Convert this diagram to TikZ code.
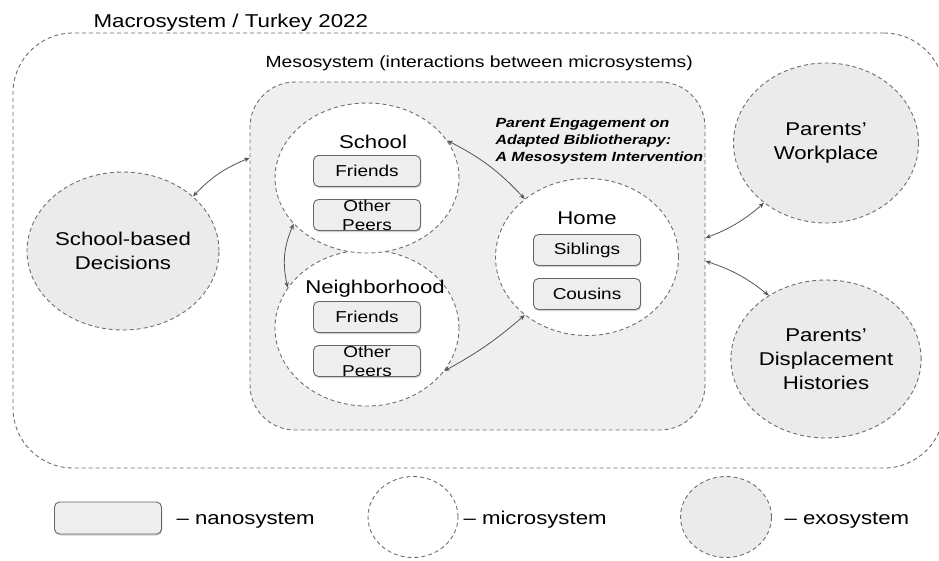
\documentclass[tikz,border=0pt]{standalone}
\usepackage{fontspec}
\setmainfont{Liberation Sans}[FakeStretch=1.2]
\usetikzlibrary{shapes.geometric, arrows.meta, positioning, shadows}

\definecolor{dashgray}{HTML}{6E6E6E}
\definecolor{mesofill}{HTML}{EFEFEF}
\definecolor{exofill}{HTML}{EBEBEB}
\definecolor{nanofill}{HTML}{EEEEEE}
\definecolor{arrgray}{HTML}{555555}

\begin{document}
\begin{tikzpicture}[
    x=1pt, y=-1pt,
    sysline/.style={
        draw=dashgray, line width=0.9pt, dash pattern=on 4pt off 3pt
    },
    macrobox/.style={
        sysline, rectangle, rounded corners=60pt, fill=white,
        minimum width=931pt, minimum height=435pt
    },
    mesobox/.style={
        sysline, rectangle, rounded corners=45pt, fill=mesofill,
        minimum width=455pt, minimum height=348pt
    },
    micro/.style={
        sysline, ellipse, fill=white, inner sep=0pt,
        minimum width=184pt, minimum height=152pt
    },
    exo/.style={
        sysline, ellipse, fill=exofill, inner sep=0pt, align=center,
        minimum width=185pt, minimum height=158pt,
        font=\fontsize{18.5}{24}\selectfont
    },
    nano/.style={
        rectangle, rounded corners=5pt, draw=gray!80!black, line width=0.9pt,
        fill=nanofill, minimum width=107pt, minimum height=31pt,
        font=\fontsize{15.8}{19}\selectfont, align=center,
        drop shadow={shadow xshift=0.8pt, shadow yshift=-1.5pt, opacity=0.35}
    },
    peers/.style={nano, inner ysep=0pt, text height=31pt, text depth=0pt},
    micname/.style={anchor=base, font=\fontsize{18.5}{22}\selectfont},
    plain/.style={anchor=base west, font=\fontsize{18.5}{22}\selectfont},
    arr/.style={{Stealth[length=5.5pt,width=4.5pt]}-{Stealth[length=5.5pt,width=4.5pt]},
        draw=arrgray, line width=0.8pt},
]
\useasboundingbox (0,0) rectangle (939,560);

% ============ Macrosystem ============
\node[plain, font=\fontsize{18.6}{22}\selectfont] (macrolbl) at (90, 27) {Macrosystem / Turkey 2022};
\node[macrobox] (macro) at (478.5, 250.5) {};

% ============ Mesosystem ============
\node[plain, font=\fontsize{16.1}{20}\selectfont] (mesolbl) at (262, 67) {Mesosystem (interactions between microsystems)};
\node[mesobox] (meso) at (477.5, 256) {};
\node[anchor=base west, align=left, font=\fontsize{13.3}{17}\selectfont\bfseries\itshape] (intervention) at (492, 161)
    {Parent Engagement on\\Adapted Bibliotherapy:\\A Mesosystem Intervention};

% ============ Exosystems ============
\node[exo] (decisions) at (123, 251) {School-based\\Decisions};
\node[exo, minimum height=160pt] (workplace) at (826, 143) {Parents'\\Workplace};
\node[exo] (displacement) at (826, 359) {Parents'\\Displacement\\Histories};

% ============ Microsystems ============
\node[micro, minimum height=156pt] (neigh) at (367, 328) {};
\node[micro, minimum height=150pt] (school) at (367, 178) {};
\node[micro, minimum width=183pt, minimum height=157pt] (home) at (587, 257) {};

\node[micname] (schoollbl) at (373, 148) {School};
\node[micname] (neighlbl) at (375, 293) {Neighborhood};
\node[micname] (homelbl) at (587, 224) {Home};

% Nanosystems
\node[nano] (schfriends) at (367, 171) {Friends};
\node[peers] (schpeers) at (367, 215) {Other\\Peers};
\node[nano] (neifriends) at (367, 317) {Friends};
\node[peers] (neipeers) at (367, 361) {Other\\Peers};
\node[nano] (siblings) at (587, 250) {Siblings};
\node[nano] (cousins) at (587, 294) {Cousins};

% ============ Arrows ============
\draw[arr] (decisions.38) to[bend left=12] ([yshift=98pt]meso.west);
\draw[arr] (school.25) to[bend left=10] (home.137);
\draw[arr] (school.212) to[bend right=18] (neigh.153);
\draw[arr] (neigh.331) to[bend right=6] (home.223);
\draw[arr] ([yshift=18pt]meso.east) to[bend right=10] (workplace.224);
\draw[arr] ([yshift=-5pt]meso.east) to[bend left=10] (displacement.132);

% ============ Legend ============
\node[nano, minimum height=32pt] (legnano) at (108, 518) {};
\node[plain] (legnanotxt) at (173, 524) {-- nanosystem};
\node[micro, minimum width=90pt, minimum height=81pt] (legmicro) at (413, 517) {};
\node[plain] (legmicrotxt) at (460, 524) {-- microsystem};
\node[exo, minimum width=91pt, minimum height=81pt] (legexo) at (726, 517) {};
\node[plain] (legexotxt) at (781, 524) {-- exosystem};

\end{tikzpicture}
\end{document}
